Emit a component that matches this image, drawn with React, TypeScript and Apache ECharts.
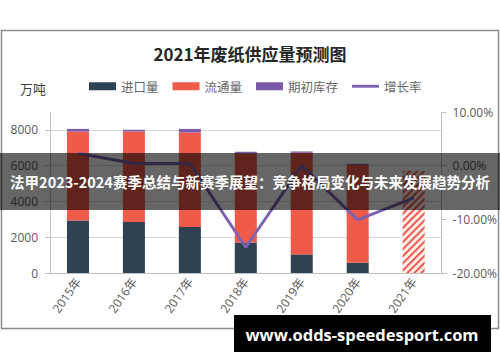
import React, { useEffect, useRef } from "react";
import * as echarts from "echarts";

const categories = ["2015年", "2016年", "2017年", "2018年", "2019年", "2020年", "2021年"];
const importVol = [2930, 2850, 2570, 1705, 1040, 570, 0];
const circulation = [4975, 5060, 5285, 4980, 5680, 5470, 5720];
const inventory = [150, 95, 200, 95, 75, 60, 0];
const growth = [2.3, 0.4, 0.4, -15.2, 0.0, -10.1, -6.0];
const leftTicks = [0, 2000, 4000, 6000, 8000];
const rightTicks = [-20, -10, 0, 10];

const C_IMPORT = "#2e4252";
const C_CIRC = "#f05a4a";
const C_INV = "#7b5ba8";
const C_LINE = "#7e62b0";
const FONT = "'Open Sans', 'Noto Sans CJK SC', sans-serif";
const CJK = "'Noto Sans CJK SC', sans-serif";

export default function App() {
  const ref = useRef<HTMLDivElement>(null);
  useEffect(() => {
    if (!ref.current) return;
    const chart = echarts.init(ref.current, null, { renderer: "svg" });
    const circData = circulation.map((v, i) =>
      i === categories.length - 1
        ? {
            value: v,
            itemStyle: {
              color: "#fdeeec",
              decal: {
                symbol: "rect",
                symbolSize: 1,
                color: C_CIRC,
                dashArrayX: [1, 0],
                dashArrayY: [2, 3],
                rotation: -Math.PI / 4,
              },
            },
          }
        : v
    );
    chart.setOption({
      animation: false,
      backgroundColor: "#fff",
      title: {
        text: "2021年废纸供应量预测图",
        left: "center",
        top: 40,
        textStyle: { fontFamily: CJK, fontSize: 17, fontWeight: "bold", color: "#262626" },
      },
      legend: {
        left: 89,
        top: 80,
        padding: 0,
        itemWidth: 27,
        itemHeight: 8,
        itemGap: 14,
        textStyle: { fontFamily: CJK, fontSize: 12.5, color: "#666" },
        data: [
          { name: "进口量", icon: "rect" },
          { name: "流通量", icon: "rect" },
          { name: "期初库存", icon: "rect" },
          { name: "增长率", icon: "path://M0,0 L28,0 L28,3 L0,3 Z" },
        ],
      },
      grid: { left: 50, right: 55, top: 112, bottom: 89 },
      xAxis: {
        type: "category",
        data: categories,
        axisLine: { lineStyle: { color: "#bfbfbf" } },
        axisTick: { alignWithLabel: true, lineStyle: { color: "#bfbfbf" } },
        axisLabel: { rotate: 55, color: "#595959", fontFamily: FONT, fontSize: 12, margin: 6 },
      },
      yAxis: [
        {
          type: "value",
          min: 0,
          max: 9000,
          interval: 1000,
          axisLine: { show: true, lineStyle: { color: "#bfbfbf" } },
          axisTick: { show: true, customValues: leftTicks, lineStyle: { color: "#bfbfbf" } },
          axisLabel: {
            customValues: leftTicks,
            color: "#595959",
            fontFamily: FONT,
            fontSize: 12,
            margin: 12,
            formatter: (v: number) => String(v),
          },
          splitLine: { show: false },
        },
        {
          type: "value",
          min: -20,
          max: 10,
          interval: 10,
          axisLine: { show: true, lineStyle: { color: "#bfbfbf" } },
          axisTick: { show: true, customValues: rightTicks, lineStyle: { color: "#bfbfbf" } },
          axisLabel: {
            customValues: rightTicks,
            color: "#595959",
            fontFamily: FONT,
            fontSize: 12,
            margin: 11,
            formatter: (v: number) => v.toFixed(2) + "%",
          },
          splitLine: { show: false },
        },
      ],
      series: [
        {
          name: "进口量",
          type: "bar",
          stack: "a",
          barWidth: 22,
          data: importVol,
          itemStyle: { color: C_IMPORT },
          markLine: {
            silent: true,
            symbol: "none",
            label: { show: false },
            lineStyle: { color: "#d9d9d9", type: "solid", width: 1 },
            data: leftTicks.filter((t) => t > 0).map((t) => ({ yAxis: t })),
            z: 0,
          },
          z: 2,
        },
        { name: "流通量", type: "bar", stack: "a", barWidth: 22, data: circData, itemStyle: { color: C_CIRC }, z: 2 },
        { name: "期初库存", type: "bar", stack: "a", barWidth: 22, data: inventory, itemStyle: { color: C_INV }, z: 2 },
        {
          name: "增长率",
          type: "line",
          yAxisIndex: 1,
          data: growth,
          symbol: "none",
          lineStyle: { color: C_LINE, width: 3 },
          itemStyle: { color: C_LINE },
          z: 3,
        },
      ],
      graphic: [
        {
          type: "rect",
          shape: { x: 1.5, y: 30.5, width: 497, height: 298 },
          style: { fill: "none", stroke: "#8c8c8c", lineWidth: 1.5 },
          z: 50,
        },
        {
          type: "text",
          x: 20,
          y: 88,
          style: { text: "万吨", fontFamily: CJK, fontSize: 13, fill: "#404040", verticalAlign: "middle" },
          z: 50,
        },
        {
          type: "rect",
          shape: { x: 0, y: 153, width: 500, height: 57 },
          style: { fill: "rgba(0,0,0,0.6)" },
          z: 100,
        },
        {
          type: "text",
          x: 250,
          y: 181.5,
          style: {
            text: "法甲2023-2024赛季总结与新赛季展望：竞争格局变化与未来发展趋势分析",
            fontFamily: CJK,
            fontSize: 14.5,
            fontWeight: "bold",
            fill: "#fff",
            align: "center",
            verticalAlign: "middle",
          },
          z: 101,
        },
        {
          type: "rect",
          shape: { x: 234, y: 315, width: 257, height: 37 },
          style: { fill: "#000" },
          z: 100,
        },
        {
          type: "text",
          x: 362,
          y: 334,
          style: {
            text: "www.odds-speedesport.com",
            fontFamily: "'Open Sans', sans-serif",
            fontSize: 16.5,
            fontWeight: "bold",
            fill: "#fff",
            align: "center",
            verticalAlign: "middle",
          },
          z: 101,
        },
      ],
    });
    return () => chart.dispose();
  }, []);
  return (
    <div
      ref={ref}
      style={{ position: "fixed", left: 0, top: 0, width: 500, height: 362 }}
    />
  );
}
